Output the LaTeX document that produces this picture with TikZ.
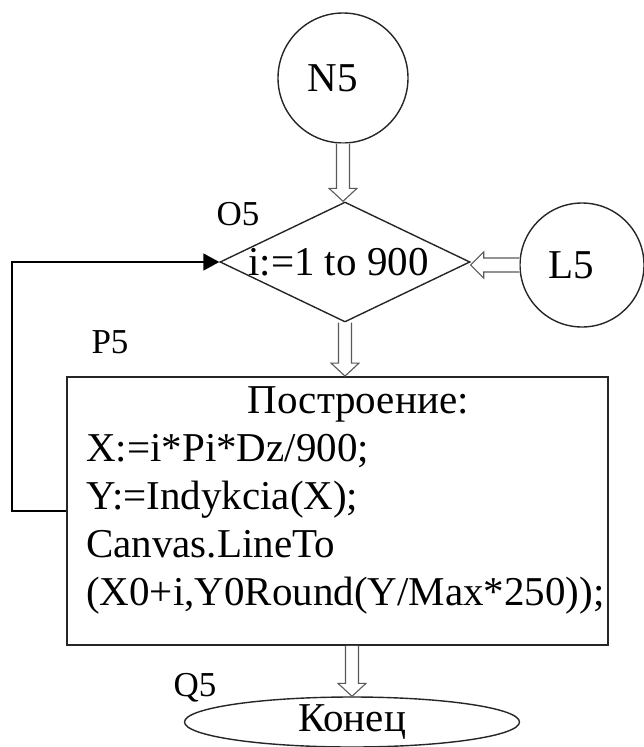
\documentclass[tikz,border=0pt]{standalone}
\usepackage{fontspec}
\setmainfont{Liberation Serif}
\usetikzlibrary{shapes.geometric,arrows.meta,calc}
\tikzset{
 shapeline/.style={draw=black!85, line width=1.4pt},
 bigtext/.style={font=\fontsize{41}{48}\selectfont},
 smalltext/.style={font=\fontsize{35}{40}\selectfont},
 harrow/.style={draw=black!65, line width=1.1pt, fill=white},
 loopline/.style={draw=black, line width=1.8pt, -{Triangle[length=16pt,width=17pt]}},
}
\newcommand\hollowdown[2]{\path[harrow] let \p1=(#1),\p2=(#2) in
 (\x1-6.5pt,\y1) -- (\x1-6.5pt,\y2+13pt) -- (\x1-14pt,\y2+13pt) -- (\x1,\y2)
 -- (\x1+14pt,\y2+13pt) -- (\x1+6.5pt,\y2+13pt) -- (\x1+6.5pt,\y1);}
\newcommand\hollowleft[2]{\path[harrow] let \p1=(#1),\p2=(#2) in
 (\x1,\y1+7pt) -- (\x2+13pt,\y1+7pt) -- (\x2+13pt,\y1+13pt) -- (\x2,\y1)
 -- (\x2+13pt,\y1-13pt) -- (\x2+13pt,\y1-7pt) -- (\x1,\y1-7pt);}
\begin{document}
\begin{tikzpicture}[x=1pt,y=-1pt]
\useasboundingbox (0,0) rectangle (644,747);
\node[circle, shapeline, minimum size=130pt, inner sep=0, bigtext] (n5) at (343,78) {\hspace*{-20pt}N5};
\node[diamond, shapeline, aspect=2.08, minimum width=250pt, minimum height=120pt, inner sep=0, bigtext] (o5) at (345,262) {\hspace*{-13pt}i:=1 to 900};
\node[circle, shapeline, minimum size=124pt, inner sep=0, bigtext] (l5) at (582,265) {\hspace*{-22pt}L5};
\node[rectangle, draw=black!85, line width=1.8pt, minimum width=541pt, minimum height=268pt, inner sep=0] (p5) at (337.5,511) {};
\node[bigtext, anchor=north west, align=left, inner sep=0] (p5text) at (86,386)
 {\makebox[519pt]{\hspace*{25pt}Построение:}\\X:=i*Pi*Dz/900;\\Y:=Indykcia(X);\\Canvas.LineTo\\(X0+i,Y0Round(Y/Max*250));};
\node[smalltext] (o5lab) at (238,214) {O5};
\node[smalltext] (p5lab) at (110,342) {P5};
\node[smalltext] (q5lab) at (195,688) {Q5};
\node[ellipse, shapeline, fill=white, minimum width=335pt, minimum height=50pt, inner sep=0, bigtext] (q5) at (352,722) {Конец};
\hollowdown{n5.south}{o5.north}
\hollowdown{o5.south}{p5.north}
\hollowdown{p5.south -| q5.north}{q5.north}
\hollowleft{l5.west}{o5.east}
\draw[loopline] (p5.west) -- ++(-54,0) |- (o5.west);
\end{tikzpicture}
\end{document}
